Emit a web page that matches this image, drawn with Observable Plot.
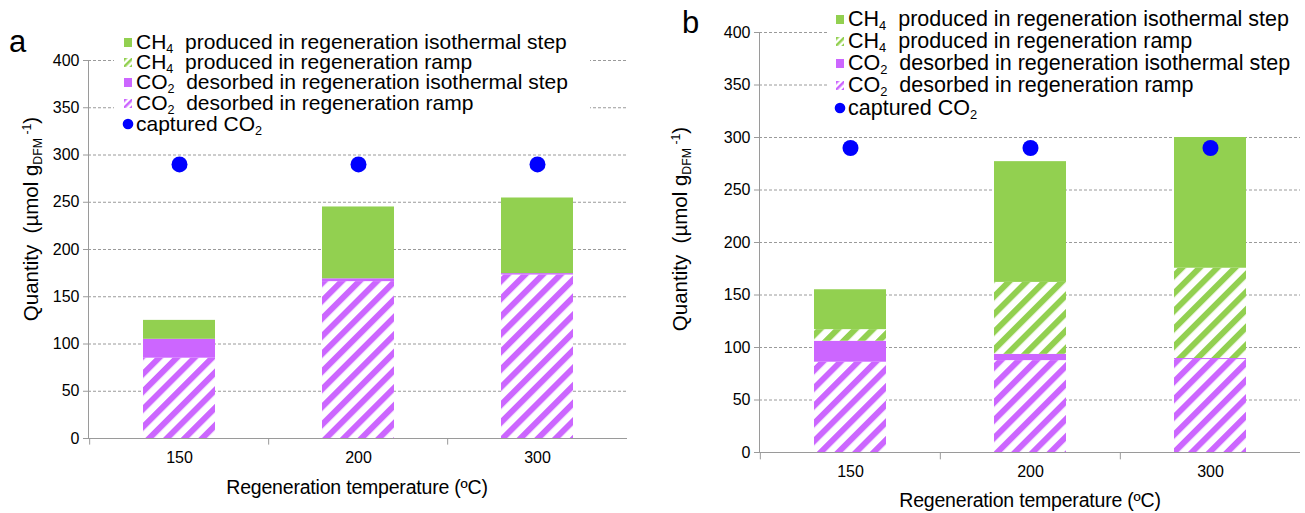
<!DOCTYPE html>
<html>
<head>
<meta charset="utf-8">
<script src="https://cdn.jsdelivr.net/npm/d3@7"></script>
<script src="https://cdn.jsdelivr.net/npm/@observablehq/plot@0.6"></script>
<style>
  html, body { margin: 0; padding: 0; background: #fff; }
  #root { position: relative; width: 1305px; height: 513px; overflow: hidden; font-family: "Liberation Sans", Arial, sans-serif; color: #000; }
  .panel { position: absolute; top: 0; }
  .plab { position: absolute; font-size: 31px; line-height: 1; }
  .legend { position: absolute; background: #fff; }
  .lrow { position: absolute; left: 0; white-space: nowrap; font-size: 21px; line-height: 20px; height: 20px; }
  .lrow svg { position: absolute; top: 0; }
  .lrow .t { position: absolute; top: 0; }
  sub, sup { font-size: 0.6em; line-height: 0; }
  sub { vertical-align: -0.3em; }
  sup { vertical-align: 0.55em; }
  .ytitle { position: absolute; white-space: nowrap; font-size: 20.5px; transform: translate(-50%, -50%) rotate(-90deg); }
  .xtitle { position: absolute; white-space: nowrap; font-size: 19.5px; transform: translate(-50%, -50%); letter-spacing: -0.2px; }
</style>
</head>
<body>
<div id="root">
  <svg width="0" height="0" style="position:absolute">
    <defs>
      <pattern id="stripePurple" patternUnits="userSpaceOnUse" width="12.5" height="12.5" patternTransform="rotate(45)">
        <rect width="12.5" height="12.5" fill="#ffffff"></rect>
        <rect width="6" height="12.5" fill="#CC66FF"></rect>
      </pattern>
      <pattern id="stripeGreen" patternUnits="userSpaceOnUse" width="12.5" height="12.5" patternTransform="rotate(45)">
        <rect width="12.5" height="12.5" fill="#ffffff"></rect>
        <rect width="6" height="12.5" fill="#92D050"></rect>
      </pattern>
      <pattern id="stripePurpleS" patternUnits="userSpaceOnUse" width="5" height="5" patternTransform="rotate(45)">
        <rect width="5" height="5" fill="#ffffff"></rect>
        <rect width="2.5" height="5" fill="#CC66FF"></rect>
      </pattern>
      <pattern id="stripeGreenS" patternUnits="userSpaceOnUse" width="5" height="5" patternTransform="rotate(45)">
        <rect width="5" height="5" fill="#ffffff"></rect>
        <rect width="2.5" height="5" fill="#92D050"></rect>
      </pattern>
    </defs>
  </svg>
</div>
<script>
// ---------------- data ----------------
const temperatures = ["150", "200", "300"];
const seriesKeys = ["co2Ramp", "co2Iso", "ch4Ramp", "ch4Iso"];
const yTicks = [0, 50, 100, 150, 200, 250, 300, 350, 400];
const xTitle = "Regeneration temperature (ºC)";

// panel a
const aCO2Ramp = [85, 166, 173];
const aCO2Iso = [20, 3, 1.5];
const aCH4Ramp = [0, 0, 0];
const aCH4Iso = [20, 76, 80];
const aCaptured = [290, 290, 290];

// panel b
const bCO2Ramp = [86, 87.5, 88.5];
const bCO2Iso = [20, 6, 1];
const bCH4Ramp = [11, 68.5, 86];
const bCH4Iso = [38, 115, 124.5];
const bCaptured = [290, 290, 290];

const seriesFill = {
  co2Ramp: "url(#stripePurple)",
  co2Iso: "#CC66FF",
  ch4Ramp: "url(#stripeGreen)",
  ch4Iso: "#92D050"
};

function buildRows(co2Ramp, co2Iso, ch4Ramp, ch4Iso) {
  const cols = {co2Ramp, co2Iso, ch4Ramp, ch4Iso};
  const rows = [];
  temperatures.forEach((t, i) => {
    seriesKeys.forEach(k => rows.push({temp: t, series: k, value: cols[k][i]}));
  });
  return rows;
}

function makePanel(cfg) {
  const rows = buildRows(cfg.co2Ramp, cfg.co2Iso, cfg.ch4Ramp, cfg.ch4Iso);
  const dots = temperatures.map((t, i) => ({temp: t, value: cfg.captured[i]}));
  const innerW = cfg.width - cfg.marginLeft - cfg.marginRight;
  const halfStep = innerW / temperatures.length / 2;
  return Plot.plot({
    width: cfg.width,
    height: cfg.height,
    marginLeft: cfg.marginLeft,
    marginRight: cfg.marginRight,
    marginTop: cfg.marginTop,
    marginBottom: cfg.marginBottom,
    style: {fontFamily: "Liberation Sans, Arial, sans-serif", fontSize: "16px", color: "#000", background: "transparent", overflow: "visible"},
    x: {type: "band", domain: temperatures, paddingInner: 0.6, paddingOuter: 0.3, label: null},
    y: {domain: [0, 400], label: null},
    color: {type: "identity"},
    marks: [
      Plot.gridY(yTicks, {stroke: "#9a9a9a", strokeOpacity: 1, strokeWidth: 1, strokeDasharray: "3,2"}),
      Plot.axisY(yTicks, {tickSize: 5, tickPadding: 4, stroke: "#9a9a9a", fontSize: 16, label: null, tickFormat: d => String(d)}),
      Plot.frame({anchor: "left", stroke: "#9a9a9a"}),
      Plot.barY(rows, {x: "temp", y: "value", fill: d => seriesFill[d.series], order: seriesKeys}),
      Plot.ruleY([0], {stroke: "#9a9a9a", strokeWidth: 1.2}),
      Plot.ruleX(temperatures, {x: d => d, y1: 0, y2: -7, dx: -halfStep, stroke: "#9a9a9a"}),
      Plot.axisX({tickSize: 0, tickPadding: 13, fontSize: 16, label: null}),
      Plot.dot(dots, {x: "temp", y: "value", r: 8, fill: "#0000FF", stroke: "none"})
    ]
  });
}

const legendItems = [
  {swatch: "sq", color: "#92D050", html: 'CH<sub>4</sub>&nbsp; produced in regeneration isothermal step'},
  {swatch: "sq", color: "url(#stripeGreenS)", html: 'CH<sub>4</sub>&nbsp; produced in regeneration ramp'},
  {swatch: "sq", color: "#CC66FF", html: 'CO<sub>2</sub>&nbsp; desorbed in regeneration isothermal step'},
  {swatch: "sq", color: "url(#stripePurpleS)", html: 'CO<sub>2</sub>&nbsp; desorbed in regeneration ramp'},
  {swatch: "dot", color: "#0000FF", html: 'captured CO<sub>2</sub>'}
];

const root = document.getElementById("root");

function addLegend(left, top, width, height, rowTops, textLeft, fontSize) {
  const lg = document.createElement("div");
  lg.className = "legend";
  lg.style.left = left + "px";
  lg.style.top = top + "px";
  lg.style.width = width + "px";
  lg.style.height = height + "px";
  legendItems.forEach((it, i) => {
    const row = document.createElement("div");
    row.className = "lrow";
    row.style.top = rowTops[i] + "px";
    row.style.fontSize = fontSize + "px";
    const sw = it.swatch === "dot"
      ? `<svg width="12" height="20" style="left:${textLeft - 14}px"><circle cx="6" cy="10" r="5.3" fill="${it.color}"/></svg>`
      : `<svg width="10" height="20" style="left:${textLeft - 13}px"><rect x="1" y="6" width="8" height="9" fill="${it.color}"/></svg>`;
    row.innerHTML = sw + `<span class="t" style="left:${textLeft}px">${it.html}</span>`;
    lg.appendChild(row);
  });
  root.appendChild(lg);
}

function addText(cls, html, x, y) {
  const d = document.createElement("div");
  d.className = cls;
  d.innerHTML = html;
  d.style.left = x + "px";
  d.style.top = y + "px";
  root.appendChild(d);
}

// ----- panel a -----
const pa = makePanel({
  width: 650, height: 513, marginLeft: 88, marginRight: 23, marginTop: 60, marginBottom: 75,
  co2Ramp: aCO2Ramp, co2Iso: aCO2Iso, ch4Ramp: aCH4Ramp, ch4Iso: aCH4Iso, captured: aCaptured
});
pa.classList.add("panel");
pa.style.left = "0px";
root.appendChild(pa);

// ----- panel b -----
const pb = makePanel({
  width: 655, height: 513, marginLeft: 109, marginRight: 5, marginTop: 32, marginBottom: 61,
  co2Ramp: bCO2Ramp, co2Iso: bCO2Iso, ch4Ramp: bCH4Ramp, ch4Iso: bCH4Iso, captured: bCaptured
});
pb.classList.add("panel");
pb.style.left = "650px";
root.appendChild(pb);

// legends
addLegend(114, 30, 476, 104, [2, 22, 42, 63, 84], 22, 21);
addLegend(828, 6, 477, 118, [3, 25, 47, 69, 92], 20, 21.5);

// panel letters
addText("plab", "a", 9, 26);
addText("plab", "b", 682, 7);

// y titles
const yTitleHtml = 'Quantity&nbsp;&nbsp;(µmol g<sub>DFM</sub><sup>&nbsp;-1</sup>)';
addText("ytitle", yTitleHtml, 31, 219);
addText("ytitle", yTitleHtml, 680, 229);

// x titles
addText("xtitle", xTitle, 357, 487);
addText("xtitle", xTitle, 1030, 500);
</script>
</body>
</html>
